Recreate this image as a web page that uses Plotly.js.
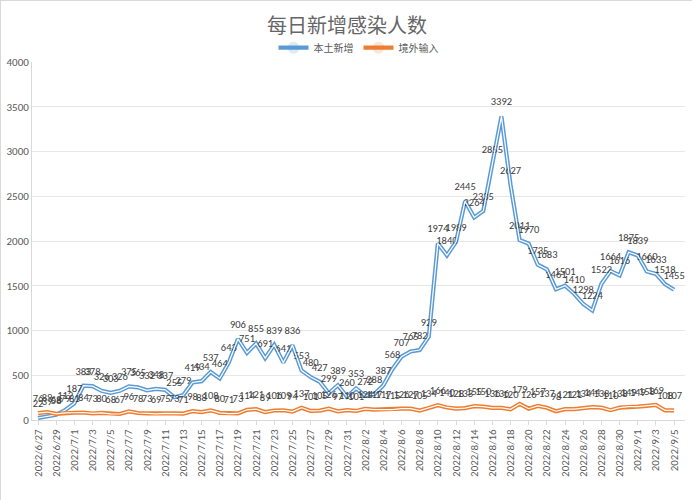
<!DOCTYPE html>
<html>
<head>
<meta charset="utf-8">
<script src="https://cdn.plot.ly/plotly-3.0.1.min.js"></script>
<style>
  body { margin: 0; background: #fff; }
  #chart { width: 690px; height: 498px; border: 1px solid #d9d9d9; }
</style>
</head>
<body>
<div id="chart"></div>
<script>
const dates = [
    '2022/6/27', '2022/6/28', '2022/6/29', '2022/6/30',
    '2022/7/1', '2022/7/2', '2022/7/3', '2022/7/4', '2022/7/5', '2022/7/6', '2022/7/7', '2022/7/8',
    '2022/7/9', '2022/7/10', '2022/7/11', '2022/7/12', '2022/7/13', '2022/7/14', '2022/7/15', '2022/7/16',
    '2022/7/17', '2022/7/18', '2022/7/19', '2022/7/20', '2022/7/21', '2022/7/22', '2022/7/23', '2022/7/24',
    '2022/7/25', '2022/7/26', '2022/7/27', '2022/7/28', '2022/7/29', '2022/7/30', '2022/7/31',
    '2022/8/1', '2022/8/2', '2022/8/3', '2022/8/4', '2022/8/5', '2022/8/6', '2022/8/7', '2022/8/8',
    '2022/8/9', '2022/8/10', '2022/8/11', '2022/8/12', '2022/8/13', '2022/8/14', '2022/8/15', '2022/8/16',
    '2022/8/17', '2022/8/18', '2022/8/19', '2022/8/20', '2022/8/21', '2022/8/22', '2022/8/23', '2022/8/24',
    '2022/8/25', '2022/8/26', '2022/8/27', '2022/8/28', '2022/8/29', '2022/8/30', '2022/8/31',
    '2022/9/1', '2022/9/2', '2022/9/3', '2022/9/4', '2022/9/5'
]

// 本土新增
const local = [
    22, 39, 58, 112,
    187, 383, 378, 326, 303, 326, 375, 365,
    332, 348, 337, 255, 279, 419, 434, 537,
    464, 643, 906, 751, 855, 691, 839, 641,
    836, 553, 480, 427, 299, 389, 260,
    353, 272, 288, 387, 568, 707, 765, 782,
    929, 1974, 1840, 1989, 2445, 2264, 2335, 2855,
    3392, 2627, 2011, 1970, 1735, 1683, 1461, 1501,
    1410, 1298, 1224, 1522, 1664, 1616, 1875,
    1839, 1660, 1633, 1518, 1455
]

// 境外输入
const imported = [
    76, 89, 68, 79,
    81, 84, 73, 80, 68, 67, 96, 78,
    73, 69, 75, 73, 71, 98, 88, 108,
    80, 71, 73, 114, 121, 89, 106, 109,
    94, 137, 101, 105, 126, 97, 110,
    101, 124, 117, 117, 115, 126, 127, 105,
    134, 166, 140, 128, 133, 155, 150, 136,
    136, 120, 179, 126, 157, 137, 98, 121,
    121, 134, 144, 138, 110, 138, 149,
    149, 158, 169, 108, 107
]

const labelFont = { family: 'Calibri, Carlito, "Liberation Sans", sans-serif', size: 10.5, color: '#404040' }
const tickFont = { family: 'Calibri, Carlito, "Liberation Sans", sans-serif', size: 11, color: '#595959' }

// double line look: thick coloured stroke + thin white core
const doubleLine = (name, y, color) => ([
    {
        x: dates, y, name,
        type: 'scatter', mode: 'lines+markers+text',
        line: { color, width: 4.2 },
        marker: { size: 12, opacity: 0, color },
        text: y.map(String),
        textposition: 'top center',
        textfont: labelFont,
        cliponaxis: false,
        hoverinfo: 'x+y',
    },
    {
        x: dates, y,
        type: 'scatter', mode: 'lines',
        line: { color: '#ffffff', width: 1.2 },
        showlegend: false,
        hoverinfo: 'skip',
    },
])

const data = [
    ...doubleLine('本土新增', local, '#5b9bd5'),
    ...doubleLine('境外输入', imported, '#ed7d31'),
]

const layout = {
    width: 692,
    height: 500,
    paper_bgcolor: '#ffffff',
    plot_bgcolor: '#ffffff',
    font: { family: '"Noto Sans CJK SC", sans-serif', color: '#595959' },
    margin: { l: 31, r: 8, t: 61, b: 81 },
    title: {
        text: '每日新增感染人数',
        font: { family: '"Noto Sans CJK SC", serif', size: 20, color: '#666666' },
        x: 0.5, xanchor: 'center',
        y: 0.95, yanchor: 'middle',
    },
    showlegend: true,
    legend: {
        orientation: 'h',
        x: 0.5, xanchor: 'center',
        y: 1.04, yanchor: 'middle',
        font: { size: 10, color: '#595959' },
        itemwidth: 30,
        tracegroupgap: 0,
    },
    xaxis: {
        type: 'category',
        range: [-0.66, 71.2],
        tickmode: 'array',
        tickvals: dates.filter((d, i) => i % 2 === 0),
        ticktext: dates.filter((d, i) => i % 2 === 0),
        tickangle: -90,
        tickfont: tickFont,
        showgrid: false,
        showline: true,
        linecolor: '#d9d9d9',
        ticks: 'outside',
        ticklen: 4,
        tickcolor: '#d9d9d9',
        zeroline: false,
    },
    yaxis: {
        range: [0, 4000],
        dtick: 500,
        tickfont: tickFont,
        gridcolor: '#e7e7e7',
        showline: true,
        linecolor: '#d9d9d9',
        zeroline: false,
        ticks: '',
    },
}

Plotly.newPlot('chart', data, layout, { displayModeBar: false, staticPlot: true })
</script>
</body>
</html>
